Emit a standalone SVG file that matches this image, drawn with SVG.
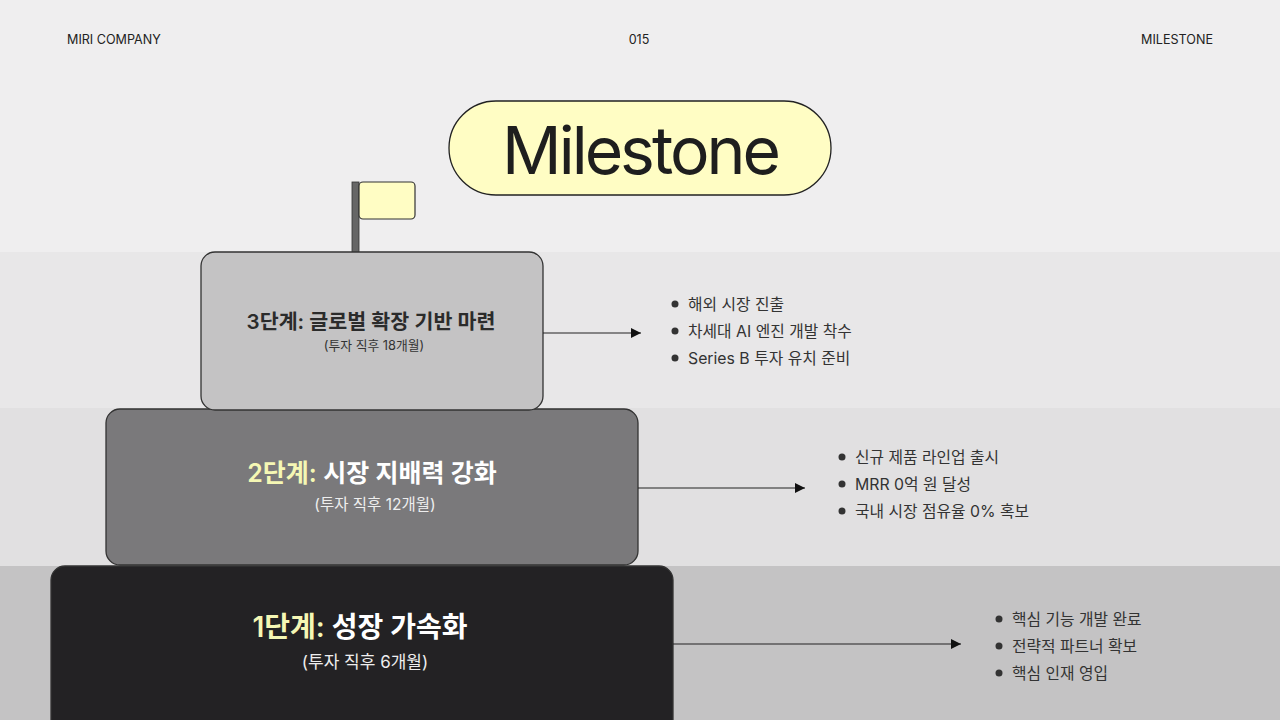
<svg xmlns="http://www.w3.org/2000/svg" width="1280" height="720" viewBox="0 0 1280 720">
<defs>
<style>
text{font-family:Inter,"Noto Sans CJK KR","Noto Sans",sans-serif;}
.hdr{font-size:12.6px;fill:#222;}
.box{stroke:#333;stroke-width:1.3;}
.item{font-size:15.8px;fill:#333;}
.dot{fill:#333;}
.conn{stroke:#222;stroke-width:1.2;fill:none;marker-end:url(#arr);}
</style>
<marker id="arr" viewBox="0 0 10 10" refX="10" refY="5" markerWidth="10" markerHeight="10" markerUnits="userSpaceOnUse" orient="auto">
<path d="M0,0 L10,5 L0,10 z" fill="#111"/>
</marker>
</defs>
<rect x="0" y="0" width="1280" height="252" fill="#efeeef"/>
<rect x="0" y="252" width="1280" height="156" fill="#e8e7e8"/>
<rect x="0" y="408" width="1280" height="158" fill="#e1e0e1"/>
<rect x="0" y="566" width="1280" height="154" fill="#c4c3c4"/>

<g id="header">
<text class="hdr" x="67" y="44">MIRI COMPANY</text>
<text class="hdr" x="639" y="44" text-anchor="middle">015</text>
<text class="hdr" x="1213" y="44" text-anchor="end">MILESTONE</text>
</g>

<g id="title">
<rect x="449" y="101" width="382" height="94" rx="47" fill="#fffdc4" stroke="#222" stroke-width="1.3"/>
<text x="640" y="174" text-anchor="middle" font-size="66" font-weight="400" letter-spacing="-3" fill="#1e1e1e">Milestone</text>
</g>

<g id="flag">
<rect x="352" y="182" width="7" height="71" fill="#666" stroke="#333" stroke-width="0.8"/>
<rect x="359" y="182" width="56" height="37" rx="4" fill="#fffdc4" stroke="#333" stroke-width="1.2"/>
</g>

<g id="stage1">
<rect class="box" x="51" y="566" width="622" height="170" rx="14" fill="#232224"/>
<text x="360" y="637" text-anchor="middle" font-size="28" font-weight="600" fill="#ffffff"><tspan fill="#f5f7b4">1단계:</tspan> 성장 가속화</text>
<text x="365" y="668" text-anchor="middle" font-size="17" fill="#eeeeee">(투자 직후 6개월)</text>
</g>

<g id="stage2">
<rect class="box" x="106" y="409" width="532" height="156" rx="14" fill="#7a797b"/>
<text x="372" y="482" text-anchor="middle" font-size="25" font-weight="600" fill="#ffffff"><tspan fill="#f5f7b4">2단계:</tspan> 시장 지배력 강화</text>
<text x="375" y="510" text-anchor="middle" font-size="15.5" fill="#eeeeee">(투자 직후 12개월)</text>
</g>

<g id="stage3">
<rect class="box" x="201" y="252" width="342" height="158" rx="14" fill="#c4c3c4"/>
<text x="371" y="329" text-anchor="middle" font-size="20.6" font-weight="600" fill="#2b2b2b">3단계: 글로벌 확장 기반 마련</text>
<text x="374" y="350" text-anchor="middle" font-size="12.8" fill="#333">(투자 직후 18개월)</text>
</g>

<g id="connectors">
<line class="conn" x1="543" y1="333" x2="641" y2="333"/>
<line class="conn" x1="638" y1="488" x2="805" y2="488"/>
<line class="conn" x1="673" y1="644" x2="961" y2="644"/>
</g>

<g id="list3">
<circle class="dot" cx="675" cy="304" r="3.5"/>
<text class="item" x="688" y="310">해외 시장 진출</text>
<circle class="dot" cx="675" cy="331" r="3.5"/>
<text class="item" x="688" y="337">차세대 AI 엔진 개발 착수</text>
<circle class="dot" cx="675" cy="358" r="3.5"/>
<text class="item" x="688" y="364">Series B 투자 유치 준비</text>
</g>

<g id="list2">
<circle class="dot" cx="842" cy="457" r="3.5"/>
<text class="item" x="855" y="463">신규 제품 라인업 출시</text>
<circle class="dot" cx="842" cy="484" r="3.5"/>
<text class="item" x="855" y="490">MRR 0억 원 달성</text>
<circle class="dot" cx="842" cy="511" r="3.5"/>
<text class="item" x="855" y="517">국내 시장 점유율 0% 혹보</text>
</g>

<g id="list1">
<circle class="dot" cx="999" cy="619" r="3.5"/>
<text class="item" x="1012" y="625">핵심 기능 개발 완료</text>
<circle class="dot" cx="999" cy="646" r="3.5"/>
<text class="item" x="1012" y="652">전략적 파트너 확보</text>
<circle class="dot" cx="999" cy="673" r="3.5"/>
<text class="item" x="1012" y="679">핵심 인재 영입</text>
</g>
</svg>
